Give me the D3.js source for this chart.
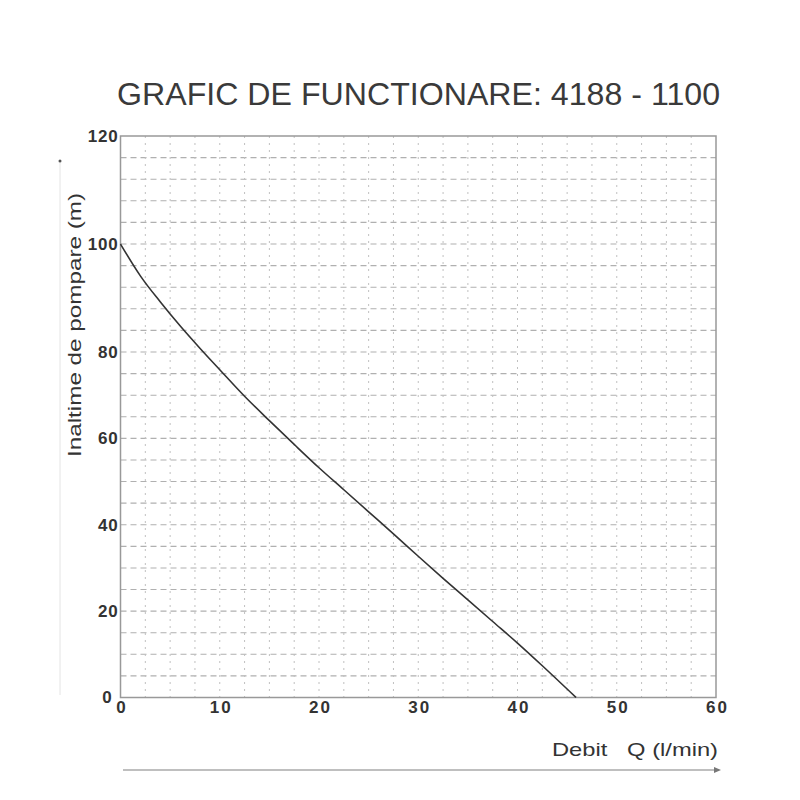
<!DOCTYPE html>
<html>
<head>
<meta charset="utf-8">
<script src="https://cdn.jsdelivr.net/npm/d3@7/dist/d3.min.js"></script>
<style>
  html, body { margin: 0; padding: 0; background: #fff; }
  svg { display: block; }
  text { font-family: "Liberation Sans", Arial, sans-serif; }
</style>
</head>
<body>
<svg id="chart" width="800" height="800"></svg>
<script>
// ---- data ----
const titleText = "GRAFIC DE FUNCTIONARE: 4188 - 1100";
const xTitle = "Debit   Q (l/min)";
const yTitle = "Inaltime de pompare (m)";
const flow = [0, 2, 4, 6, 8, 10, 12.5, 15, 17.5, 20, 22.5, 25, 27.5, 30, 32.5, 35, 37.5, 40, 42.5, 45.9];
const head = [100, 94.1, 89.3, 84.85, 80.7, 75.9, 69.75, 64.1, 58.6, 53.2, 48.1, 43.0, 37.9, 32.7, 27.6, 22.6, 17.6, 12.6, 7.35, 0];
const xTicks = [0, 10, 20, 30, 40, 50, 60];
const yTicks = [0, 20, 40, 60, 80, 100, 120];
const xGrid = [2.5, 5, 7.5, 10, 12.5, 15, 17.5, 20, 22.5, 25, 27.5, 30, 32.5, 35, 37.5, 40, 42.5, 45, 47.5, 50, 52.5, 55, 57.5];
const yGrid = [5, 10, 15, 20, 25, 30, 35, 40, 45, 50, 55, 60, 65, 70, 75, 80, 84, 88, 92, 96, 100, 104, 108, 112, 116];

// ---- layout ----
const pL = 120.5, pR = 716, pT = 136, pB = 697.5;
const svg = d3.select("#chart");

const x = d3.scaleLinear().domain([0, 60]).range([pL, pR]);
// the original chart uses an uneven vertical scale (0-80 compressed, 80-120 expanded)
const y = d3.scaleLinear().domain([0, 80, 120]).range([pB, 352, pT]);

// title
svg.append("text")
  .attr("x", 117).attr("y", 105)
  .attr("font-size", 32).attr("fill", "#3a3a3a")
  .attr("textLength", 603).attr("lengthAdjust", "spacingAndGlyphs")
  .text(titleText);

// grid
const g = svg.append("g");
g.selectAll(".hg").data(yGrid).join("line")
  .attr("x1", pL).attr("x2", pR)
  .attr("y1", d => y(d)).attr("y2", d => y(d))
  .attr("stroke", "#b0b0b0").attr("stroke-width", 1.1)
  .attr("stroke-dasharray", "6,4");
g.selectAll(".vg").data(xGrid).join("line")
  .attr("y1", pT).attr("y2", pB)
  .attr("x1", d => x(d)).attr("x2", d => x(d))
  .attr("stroke", "#c0c0c0").attr("stroke-width", 1)
  .attr("stroke-dasharray", "2,5");

// frame
svg.append("rect")
  .attr("x", pL).attr("y", pT)
  .attr("width", pR - pL).attr("height", pB - pT)
  .attr("fill", "none").attr("stroke", "#999").attr("stroke-width", 1.5);

// axes
const yAxis = svg.append("g")
  .attr("transform", `translate(${pL - 2},0)`)
  .call(d3.axisLeft(y).tickValues(yTicks).tickSize(0).tickPadding(0));
yAxis.select(".domain").remove();
yAxis.selectAll("text")
  .attr("font-size", 17).attr("fill", "#333").attr("font-weight", "bold")
  .attr("letter-spacing", 0.8)
  .attr("dx", d => d === 0 ? -6 : 0)
  .style("font-family", "'Liberation Sans', Arial, sans-serif");

const xAxis = svg.append("g")
  .attr("transform", `translate(0,${pB + 3})`)
  .call(d3.axisBottom(x).tickValues(xTicks).tickSize(0).tickPadding(0));
xAxis.select(".domain").remove();
xAxis.selectAll("text")
  .attr("font-size", 17).attr("fill", "#333").attr("font-weight", "bold")
  .attr("letter-spacing", 2)
  .attr("dx", 1)
  .style("font-family", "'Liberation Sans', Arial, sans-serif");

// curve
const line = d3.line()
  .x((d, i) => x(flow[i]))
  .y(d => y(d))
  .curve(d3.curveMonotoneX);
svg.append("path")
  .datum(head)
  .attr("d", line)
  .attr("fill", "none").attr("stroke", "#333").attr("stroke-width", 1.6);

// x title + arrow
svg.append("text")
  .attr("x", 718).attr("y", 756)
  .attr("text-anchor", "end")
  .attr("font-size", 19).attr("fill", "#333")
  .attr("xml:space", "preserve")
  .style("white-space", "pre")
  .attr("textLength", 166).attr("lengthAdjust", "spacingAndGlyphs")
  .text(xTitle);
svg.append("line")
  .attr("x1", 123).attr("x2", 718).attr("y1", 770).attr("y2", 770)
  .attr("stroke", "#aaa").attr("stroke-width", 1.5);
svg.append("path")
  .attr("d", "M714,767 L721,770 L714,773 Z")
  .attr("fill", "#777");

// y title + faint axis line
svg.append("text")
  .attr("transform", "translate(81,325) rotate(-90)")
  .attr("text-anchor", "middle")
  .attr("font-size", 19).attr("fill", "#333")
  .attr("textLength", 264).attr("lengthAdjust", "spacingAndGlyphs")
  .text(yTitle);
svg.append("line")
  .attr("x1", 60).attr("x2", 60).attr("y1", 163).attr("y2", 695)
  .attr("stroke", "#e4e4e4").attr("stroke-width", 1);
svg.append("circle")
  .attr("cx", 60).attr("cy", 161).attr("r", 1.5).attr("fill", "#555");
</script>
</body>
</html>
